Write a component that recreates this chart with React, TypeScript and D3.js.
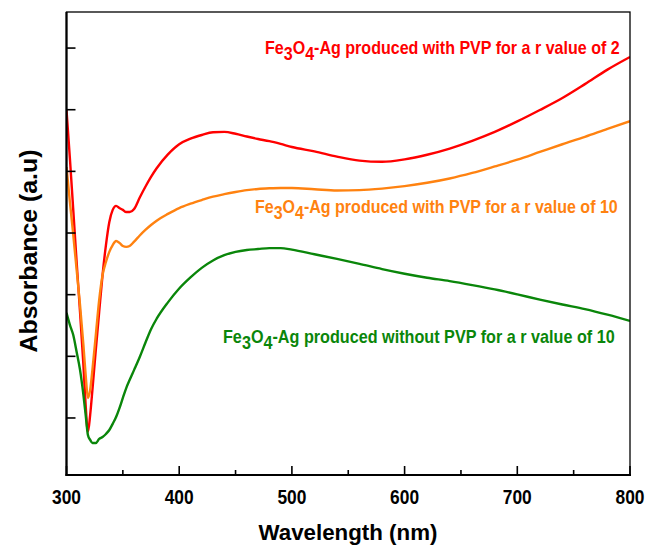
import * as d3 from "d3";
import React, { useEffect, useRef } from "react";

const wavelengths = [
  300, 303, 306, 309, 312, 315, 317, 319, 321, 323, 326, 329, 332, 335, 338, 341, 344, 347, 350, 353, 356, 360, 365,
  370, 375, 380, 390, 400, 410, 420, 430, 440, 450, 460, 470, 480, 490, 500, 520, 540, 560, 580, 600, 620, 640, 660,
  680, 700, 720, 740, 760, 780, 800,
];

const redValues = [
  1.199, 1.043, 0.875, 0.706, 0.544, 0.372, 0.242, 0.155, 0.21, 0.291, 0.421, 0.544, 0.664, 0.761, 0.836, 0.875, 0.888,
  0.881, 0.875, 0.868, 0.868, 0.878, 0.915, 0.95, 0.982, 1.01, 1.055, 1.088, 1.106, 1.118, 1.127, 1.128, 1.122, 1.113,
  1.105, 1.098, 1.089, 1.079, 1.065, 1.048, 1.035, 1.031, 1.039, 1.054, 1.074, 1.099, 1.128, 1.162, 1.199, 1.238, 1.283,
  1.33, 1.371,
];

const orangeValues = [
  1.014, 0.901, 0.794, 0.68, 0.567, 0.437, 0.34, 0.265, 0.291, 0.356, 0.469, 0.583, 0.664, 0.706, 0.739, 0.761, 0.774,
  0.768, 0.758, 0.755, 0.758, 0.772, 0.792, 0.81, 0.826, 0.84, 0.862, 0.881, 0.895, 0.907, 0.918, 0.926, 0.933, 0.939,
  0.943, 0.945, 0.946, 0.946, 0.942, 0.938, 0.939, 0.944, 0.952, 0.963, 0.977, 0.995, 1.016, 1.038, 1.063, 1.088, 1.112,
  1.138, 1.163,
];

const greenValues = [
  0.541, 0.502, 0.469, 0.414, 0.356, 0.275, 0.21, 0.145, 0.129, 0.119, 0.119, 0.132, 0.138, 0.148, 0.161, 0.181, 0.203,
  0.232, 0.265, 0.297, 0.323, 0.356, 0.398, 0.444, 0.488, 0.522, 0.575, 0.62, 0.656, 0.687, 0.711, 0.728, 0.739, 0.745,
  0.748, 0.751, 0.751, 0.746, 0.731, 0.716, 0.7, 0.683, 0.668, 0.655, 0.644, 0.631, 0.617, 0.601, 0.584, 0.568, 0.553,
  0.535, 0.515,
];

const xTicks = [300, 400, 500, 600, 700, 800];
const xMinorTicks = [350, 450, 550, 650, 750];
const yTicks = [0.2, 0.4, 0.6, 0.8, 1.0, 1.2, 1.4];

// label text: [prefix, sub1, mid, sub2, rest]
const seriesList = [
  { name: "r2", values: redValues, color: "#ff0000", text: ["Fe", "3", "O", "4", "-Ag produced with PVP for a r value of 2"], lx: 265, ly: 54, w: 355 },
  { name: "r10", values: orangeValues, color: "#ff8210", text: ["Fe", "3", "O", "4", "-Ag produced with PVP for a r value of 10"], lx: 255, ly: 213, w: 363 },
  { name: "noPVP", values: greenValues, color: "#0a860a", text: ["Fe", "3", "O", "4", "-Ag produced without PVP for a r value of 10"], lx: 223, ly: 343, w: 392 },
];

// squeeze a text element horizontally so it spans the given width
function fitWidth(sel, target, ax, ay) {
  const len = sel.node().getComputedTextLength();
  const sx = len > 0 ? target / len : 1;
  sel.attr("transform", `translate(${ax},${ay}) scale(${sx},1) translate(${-ax},${-ay})`);
}

const App = () => {
  const node = useRef(null);
  useEffect(() => {
    const width = 645;
    const height = 552;
    const margin = { top: 12, bottom: 77, left: 66.5, right: 15 };
    const font = "'Liberation Sans', Arial, sans-serif";

    const svg = d3
      .select(node.current)
      .append("svg")
      .attr("width", width)
      .attr("height", height)
      .style("display", "block")
      .style("background", "#fff");

    const x = d3.scaleLinear().domain([300, 800]).range([margin.left, width - margin.right]);
    const y = d3.scaleLinear().domain([0.015, 1.517]).range([height - margin.bottom, margin.top]);

    const clipId = "plot-clip";
    svg
      .append("clipPath")
      .attr("id", clipId)
      .append("rect")
      .attr("x", margin.left)
      .attr("y", margin.top)
      .attr("width", x(800) - margin.left)
      .attr("height", y.range()[0] - margin.top);

    const line = d3
      .line()
      .x((d) => x(d[0]))
      .y((d) => y(d[1]))
      .curve(d3.curveMonotoneX);

    seriesList.forEach((s) => {
      const pts = wavelengths.map((w, i) => [w, s.values[i]]);
      svg
        .append("path")
        .datum(pts)
        .attr("clip-path", `url(#${clipId})`)
        .attr("fill", "none")
        .attr("stroke", s.color)
        .attr("stroke-width", 2.4)
        .attr("stroke-linejoin", "round")
        .attr("d", line);
    });

    // frame
    const x0 = x(300);
    const x1 = x(800);
    const y0 = y.range()[0];
    const y1 = margin.top;
    svg
      .append("rect")
      .attr("x", x0)
      .attr("y", y1)
      .attr("width", x1 - x0)
      .attr("height", y0 - y1)
      .attr("fill", "none")
      .attr("stroke", "#000")
      .attr("stroke-width", 1.3);
    svg.append("line").attr("x1", x0).attr("x2", x0).attr("y1", y1).attr("y2", y0 + 1).attr("stroke", "#000").attr("stroke-width", 2.2);
    svg.append("line").attr("x1", x0 - 1).attr("x2", x1 + 1).attr("y1", y0).attr("y2", y0).attr("stroke", "#000").attr("stroke-width", 2.2);

    // ticks
    svg
      .append("g")
      .selectAll("line")
      .data(xTicks)
      .join("line")
      .attr("x1", (d) => x(d))
      .attr("x2", (d) => x(d))
      .attr("y1", y0)
      .attr("y2", y0 - 9)
      .attr("stroke", "#000")
      .attr("stroke-width", 1.6);
    svg
      .append("g")
      .selectAll("line")
      .data(xMinorTicks)
      .join("line")
      .attr("x1", (d) => x(d))
      .attr("x2", (d) => x(d))
      .attr("y1", y0)
      .attr("y2", y0 - 5)
      .attr("stroke", "#000")
      .attr("stroke-width", 1.6);
    svg
      .append("g")
      .selectAll("line")
      .data(yTicks)
      .join("line")
      .attr("x1", x0)
      .attr("x2", x0 + 9)
      .attr("y1", (d) => y(d))
      .attr("y2", (d) => y(d))
      .attr("stroke", "#000")
      .attr("stroke-width", 1.6);

    svg
      .append("g")
      .selectAll("text")
      .data(xTicks)
      .join("text")
      .attr("x", (d) => x(d))
      .attr("y", 504)
      .attr("text-anchor", "middle")
      .attr("font-family", font)
      .attr("font-weight", "bold")
      .attr("font-size", 20)
      .attr("fill", "#000")
      .text((d) => d)
      .each(function (d) {
        fitWidth(d3.select(this), 29, x(d), 504);
      });

    const xt = svg
      .append("text")
      .attr("x", 348)
      .attr("y", 540)
      .attr("text-anchor", "middle")
      .attr("font-family", font)
      .attr("font-weight", "bold")
      .attr("font-size", 22)
      .text("Wavelength (nm)");
    fitWidth(xt, 179, 348, 540);

    const yt = svg
      .append("text")
      .attr("transform", "translate(37,251) rotate(-90)")
      .attr("text-anchor", "middle")
      .attr("font-family", font)
      .attr("font-weight", "bold")
      .attr("font-size", 24)
      .text("Absorbance (a.u)");
    const ytLen = yt.node().getComputedTextLength();
    yt.attr("transform", `translate(37,251) rotate(-90) scale(${203 / ytLen},1)`);

    seriesList.forEach((s) => {
      const t = svg
        .append("text")
        .attr("x", s.lx)
        .attr("y", s.ly)
        .attr("font-family", font)
        .attr("font-weight", "bold")
        .attr("font-size", 17.5)
        .attr("fill", s.color);
      t.append("tspan").text(s.text[0]);
      t.append("tspan").attr("dy", 6).text(s.text[1]);
      t.append("tspan").attr("dy", -6).text(s.text[2]);
      t.append("tspan").attr("dy", 6).text(s.text[3]);
      t.append("tspan").attr("dy", -6).text(s.text[4]);
      fitWidth(t, s.w, s.lx, s.ly);
    });

    return () => {
      d3.select(node.current).selectAll("svg").remove();
    };
  }, []);
  return <div ref={node} style={{ position: "absolute", left: 0, top: 0 }}></div>;
};

export default App;
